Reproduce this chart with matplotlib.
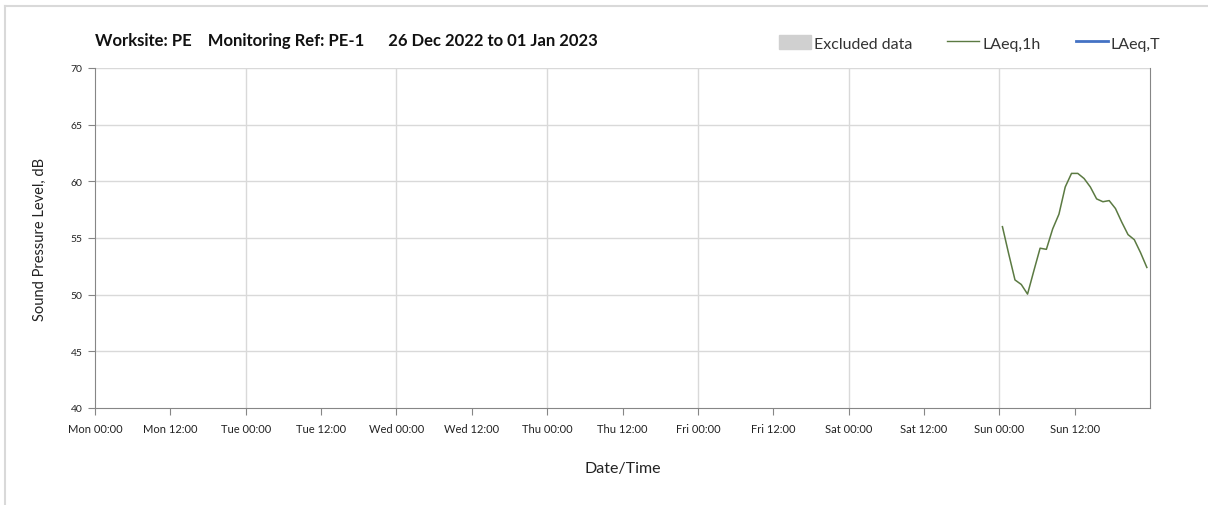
import datetime as dt
import matplotlib.pyplot as plt
from matplotlib.lines import Line2D
from matplotlib.patches import Patch

plt.rcParams['font.family'] = ['Lato', 'DejaVu Sans']

# hourly LAeq values, Sun 01 Jan 2023
start = dt.datetime(2022, 12, 26)
hours = [144.5, 145.5, 146.5, 147.5, 148.5, 149.5, 150.5, 151.5, 152.5, 153.5, 154.5, 155.5,
         156.5, 157.5, 158.5, 159.5, 160.5, 161.5, 162.5, 163.5, 164.5, 165.5, 166.5, 167.5]
laeq_1h = [56.0, 53.6, 51.3, 50.9, 50.05, 52.1, 54.1, 54.0, 55.8, 57.1, 59.5, 60.7,
           60.7, 60.25, 59.5, 58.45, 58.2, 58.3, 57.6, 56.4, 55.3, 54.85, 53.7, 52.4]
tick_labels = ['Mon 00:00', 'Mon 12:00', 'Tue 00:00', 'Tue 12:00', 'Wed 00:00', 'Wed 12:00',
               'Thu 00:00', 'Thu 12:00', 'Fri 00:00', 'Fri 12:00', 'Sat 00:00', 'Sat 12:00',
               'Sun 00:00', 'Sun 12:00']

times = [start + dt.timedelta(hours=h) for h in hours]
ticks = [start + dt.timedelta(hours=12 * i) for i in range(len(tick_labels))]
days = [start + dt.timedelta(days=i) for i in range(8)]

fig = plt.figure(figsize=(12.08, 5.06), dpi=100)
ax = fig.add_axes([95 / 1208, 1 - 409 / 506, 1055 / 1208, 340 / 506])

grid_c = '#d9d9d9'
for d in days[1:-1]:
    ax.axvline(d, color=grid_c, lw=1, zorder=0)
for v in range(45, 71, 5):
    ax.axhline(v, color=grid_c, lw=1, zorder=0)

ax.plot(times, laeq_1h, color='#5b7a42', lw=1.1)

ax.set_xlim(start, days[-1])
ax.set_ylim(40, 70)
ax.set_yticks(range(40, 71, 5))
ax.set_xticks(ticks)
ax.set_xticklabels(tick_labels)
ax.tick_params(axis='x', length=5, color='#868686', labelsize=8, pad=6, labelcolor='#222222')
ax.tick_params(axis='y', length=5, color='#868686', labelsize=7.5, pad=4, labelcolor='#222222')

for s in ['left', 'bottom', 'right']:
    ax.spines[s].set_color('#868686')
ax.spines['top'].set_visible(False)

ax.set_ylabel('Sound Pressure Level, dB', fontsize=10.5, color='#222222', labelpad=17)
ax.set_xlabel('Date/Time', fontsize=11.5, color='#222222', labelpad=19)

fig.text(95 / 1208, 1 - 41 / 506,
         'Worksite: PE    Monitoring Ref: PE-1      26 Dec 2022 to 01 Jan 2023',
         fontsize=12, fontweight='bold', va='center', color='#111111')

handles = [Patch(color='#d0d0d0'),
           Line2D([], [], color='#5b7a42', lw=1),
           Line2D([], [], color='#4472c4', lw=2)]
fig.legend(handles, ['Excluded data', 'LAeq,1h', 'LAeq,T'], ncol=3, frameon=False,
           loc='center right', bbox_to_anchor=(1175 / 1208, 1 - 44 / 506),
           fontsize=11.5, handlelength=2.0, handleheight=0.9, handletextpad=0.2,
           columnspacing=2.2, labelcolor='#333333')

# frame around the chart area
fig.add_artist(Line2D([5 / 1208, 1], [1 - 6.5 / 506, 1 - 6.5 / 506], color='#d9d9d9', lw=1.5))
fig.add_artist(Line2D([5 / 1208, 5 / 1208], [0, 1 - 6.5 / 506], color='#d9d9d9', lw=1.5))

fig.savefig('out.png', dpi=100)
